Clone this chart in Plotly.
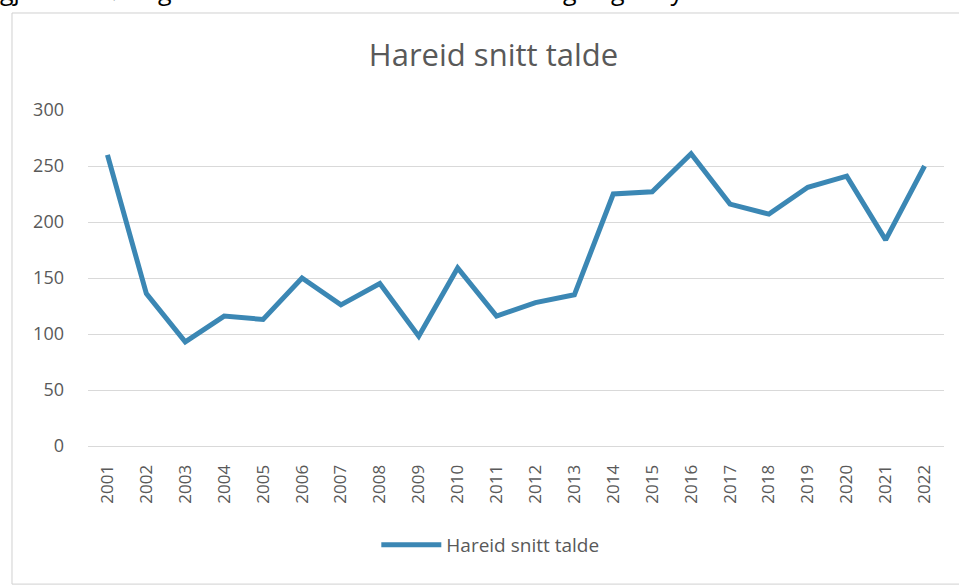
import plotly.graph_objects as go

years = [str(y) for y in range(2001, 2023)]
snitt = [260, 136, 93, 116, 113, 150, 126, 145, 98, 159, 116,
         128, 135, 225, 227, 261, 216, 207, 231, 241, 184, 250]
y_ticks = [0, 50, 100, 150, 200, 250, 300]

grey = "#595959"
blue = "#3B87B4"

fig = go.Figure()
fig.add_trace(go.Scatter(x=years, y=snitt, mode="lines", name="Hareid snitt talde",
                         line=dict(color=blue, width=5)))

fig.update_layout(
    width=959, height=585,
    margin=dict(l=88, r=15, t=110, b=139),
    paper_bgcolor="white", plot_bgcolor="white",
    font=dict(family="Open Sans, Liberation Sans, sans-serif", color=grey),
    title=dict(text="Hareid snitt talde", x=0.4737, xref="paper", y=0.906, yanchor="middle",
               font=dict(size=31, color=grey)),
    showlegend=True,
    legend=dict(orientation="h", x=0.47, xanchor="center", y=-0.2946, yanchor="middle",
                font=dict(size=19, color=grey), itemwidth=60),
)
fig.update_xaxes(type="category", range=[-0.5, 21.5], tickangle=-90, showgrid=False,
                 showline=True, linecolor="#D9D9D9", ticks="",
                 tickfont=dict(size=17, color=grey), ticklabelstandoff=11)
fig.update_yaxes(range=[0, 300], tickvals=y_ticks, gridcolor="#D9D9D9", gridwidth=1,
                 zeroline=False, showline=False, ticks="",
                 tickfont=dict(size=18, color=grey), ticklabelstandoff=23)

# chart border (right side runs off the page)
fig.add_shape(type="rect", xref="paper", yref="paper",
              x0=-0.0888, x1=1.05, y0=-0.411, y1=1.2887,
              line=dict(color="#D0D0D0", width=1))

# text from the page above, cut off at the top
fig.add_annotation(text="gjennomføringa er lik år etter år for å få best mogeleg utbytte av resultata.",
                   xref="paper", yref="paper", x=-0.105, xanchor="left", y=1.30, yanchor="bottom",
                   showarrow=False, font=dict(size=25, color="black"))

# drop the default body margin so the figure fills the window exactly
fig.write_html("out.html", config={"displayModeBar": False},
               post_script="document.body.style.margin='0';")
